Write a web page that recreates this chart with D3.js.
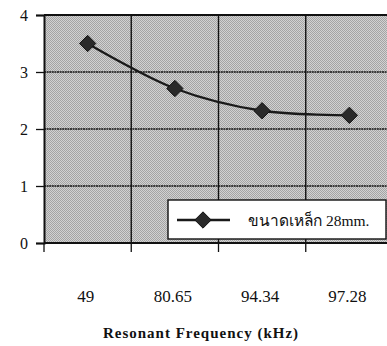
<!DOCTYPE html>
<html>
<head>
<meta charset="utf-8">
<script src="https://cdn.jsdelivr.net/npm/d3@7"></script>
<style>
  html, body { margin: 0; padding: 0; background: #fff; }
  svg { display: block; }
  .serif { font-family: "Liberation Serif", "DejaVu Serif", serif; }
</style>
</head>
<body>
<svg id="chart" width="387" height="346"></svg>
<script>
// Resonant frequency categories (kHz) and measured values
const categories = ["49", "80.65", "94.34", "97.28"];
const values = [3.5, 2.71, 2.32, 2.24];
const yTicks = [0, 1, 2, 3, 4];
const seriesName = "ขนาดเหล็ก 28mm.";
const xTitle = "Resonant Frequency (kHz)";

const svg = d3.select("#chart");
const plot = { left: 44, top: 15, right: 393, bottom: 243 };

const x = d3.scaleBand().domain(categories).range([plot.left, plot.right]).paddingInner(0).paddingOuter(0);
const y = d3.scaleLinear().domain([0, 4]).range([plot.bottom, plot.top]);

// Halftone gray fill of the plot area
const defs = svg.append("defs");
const pat = defs.append("pattern").attr("id", "halftone")
  .attr("width", 2).attr("height", 2).attr("patternUnits", "userSpaceOnUse");
pat.append("rect").attr("width", 2).attr("height", 2).attr("fill", "#d2d2d2");
pat.append("rect").attr("width", 1).attr("height", 1).attr("fill", "#a4a4a4");
pat.append("rect").attr("x", 1).attr("y", 1).attr("width", 1).attr("height", 1).attr("fill", "#a4a4a4");

svg.append("rect")
  .attr("x", plot.left).attr("y", plot.top)
  .attr("width", plot.right - plot.left).attr("height", plot.bottom - plot.top)
  .attr("fill", "url(#halftone)");

// Horizontal gridlines
svg.append("g").selectAll("line").data(yTicks.filter(d => d > 0 && d < 4)).join("line")
  .attr("x1", plot.left).attr("x2", plot.right)
  .attr("y1", d => y(d)).attr("y2", d => y(d))
  .attr("stroke", "#111").attr("stroke-width", 1.5).attr("stroke-dasharray", "2,0.6");

// Vertical gridlines at category boundaries
const bounds = categories.slice(1).map(c => x(c));
svg.append("g").selectAll("line").data(bounds).join("line")
  .attr("x1", d => d).attr("x2", d => d)
  .attr("y1", plot.top).attr("y2", plot.bottom)
  .attr("stroke", "#111").attr("stroke-width", 1.4);

// Plot frame: top edge
svg.append("line").attr("x1", plot.left).attr("x2", plot.right)
  .attr("y1", plot.top).attr("y2", plot.top).attr("stroke", "#111").attr("stroke-width", 2);

// Y axis
const yAxis = d3.axisLeft(y).tickValues(yTicks).tickSize(8).tickFormat(d3.format("d"));
const gy = svg.append("g").attr("transform", `translate(${plot.left},0)`).call(yAxis);
gy.attr("font-family", null).attr("font-size", null);
gy.select(".domain").attr("stroke", "#111").attr("stroke-width", 2);
gy.selectAll(".tick line").attr("stroke", "#111").attr("stroke-width", 1.3);
gy.selectAll(".tick text")
  .attr("class", "serif")
  .style("font-size", "16px").attr("fill", "#111").attr("x", -16);

// X axis (ticks at category boundaries, labels centered below)
const gx = svg.append("g").attr("transform", `translate(0,${plot.bottom})`);
gx.append("line").attr("x1", plot.left).attr("x2", plot.right)
  .attr("stroke", "#111").attr("stroke-width", 2);
gx.selectAll("line.tk").data([plot.left, ...bounds]).join("line").attr("class", "tk")
  .attr("x1", d => d).attr("x2", d => d).attr("y1", 0).attr("y2", 9)
  .attr("stroke", "#111").attr("stroke-width", 1.3);
gx.selectAll("text").data(categories).join("text")
  .attr("class", "serif")
  .attr("x", d => x(d) + x.bandwidth() / 2 - 2).attr("y", 59)
  .attr("text-anchor", "middle")
  .style("font-size", "17px").attr("fill", "#111")
  .text(d => d);

svg.append("text")
  .attr("class", "serif")
  .attr("x", 201).attr("y", 338).attr("text-anchor", "middle")
  .style("font-size", "15px").style("font-weight", "bold").attr("letter-spacing", 1).attr("fill", "#111")
  .text(xTitle);

// Series line (smoothed) and diamond markers
const pts = categories.map((c, i) => [x(c) + x.bandwidth() / 2, y(values[i])]);
svg.append("path")
  .attr("d", d3.line().curve(d3.curveCatmullRom.alpha(0.5))(pts))
  .attr("fill", "none").attr("stroke", "#1a1a1a").attr("stroke-width", 2.3);

const diamond = d3.symbol().type(d3.symbolDiamond2).size(170);
svg.append("g").selectAll("path").data(pts).join("path")
  .attr("transform", d => `translate(${d[0]},${d[1]})`)
  .attr("d", diamond).attr("fill", "#2a2a2a").attr("stroke", "#111").attr("stroke-width", 1);

// Legend
const lg = svg.append("g");
lg.append("rect").attr("x", 168).attr("y", 200).attr("width", 218).attr("height", 39)
  .attr("fill", "#fff").attr("stroke", "#111").attr("stroke-width", 1.4);
lg.append("line").attr("x1", 177).attr("x2", 230).attr("y1", 220).attr("y2", 220)
  .attr("stroke", "#1a1a1a").attr("stroke-width", 2.3);
lg.append("path").attr("transform", "translate(203,220)")
  .attr("d", diamond).attr("fill", "#2a2a2a").attr("stroke", "#111").attr("stroke-width", 1);
lg.append("text").attr("class", "serif").attr("x", 248).attr("y", 226)
  .style("font-size", "15.5px").attr("fill", "#111")
  .text(seriesName);
</script>
</body>
</html>
